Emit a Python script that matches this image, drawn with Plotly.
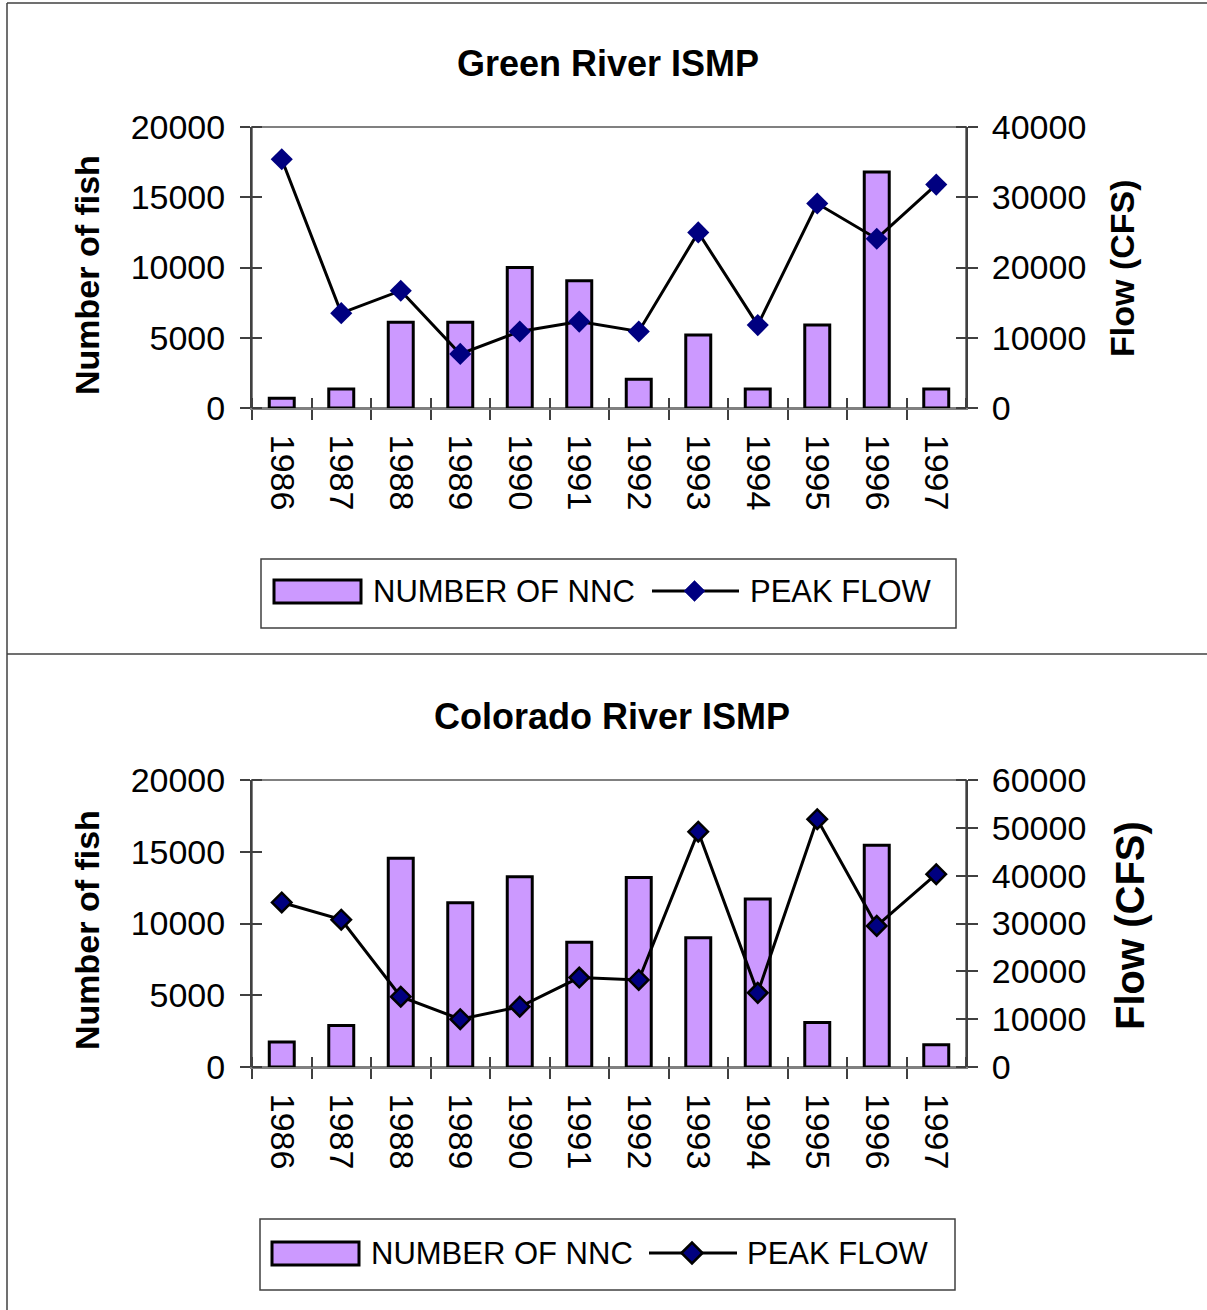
import plotly.graph_objects as go

# ---------------------------------------------------------------- data
years = [1986, 1987, 1988, 1989, 1990, 1991, 1992, 1993, 1994, 1995, 1996, 1997]
year_labels = [str(y) for y in years]

green_nnc = [700, 1350, 6100, 6100, 10000, 9050, 2050, 5200, 1350, 5900, 16800, 1350]
green_flow = [35400, 13500, 16700, 7700, 10900, 12300, 10900, 25000, 11800, 29100, 24100, 31800]

colorado_nnc = [1750, 2900, 14550, 11450, 13250, 8700, 13200, 9000, 11700, 3100, 15450, 1550]
colorado_flow = [34400, 30800, 14700, 10000, 12600, 18700, 18200, 49200, 15500, 51800, 29500, 40300]

fish_ticks = [0, 5000, 10000, 15000, 20000]
green_flow_ticks = [0, 10000, 20000, 30000, 40000]
colorado_flow_ticks = [0, 10000, 20000, 30000, 40000, 50000, 60000]

titles = ["Green River ISMP", "Colorado River ISMP"]
bar_name = "NUMBER OF NNC"
line_name = "PEAK FLOW"
left_title = "Number of fish"
right_title = "Flow (CFS)"

# ---------------------------------------------------------------- styling
W, H = 1207, 1310
FONT = "Liberation Sans, Arial, sans-serif"
TICK_SIZE = 34
BAR_FILL = "#CC99FF"
NAVY = "#000080"
AXIS_DARK = "#404040"
FRAME_GRAY = "#808080"


def px(x):
    return x / W


def py(y):
    return 1 - y / H


# plot-area geometry of each panel, in page pixels
panels = [
    dict(left=252, right=966, top=127, bottom=408,
         nnc=green_nnc, flow=green_flow, flow_ticks=green_flow_ticks,
         title_y=64, title_x=608, ltitle=(87, 275, 34), rtitle=(1122, 268, 34),
         legend=dict(box=(261, 559, 956, 628), rect=(274, 580, 361, 603),
                     line=(652, 739, 591), diamond=694.5, t1=371, t2=748),
         marker_line=0, marker_size=17),
    dict(left=252, right=966, top=780, bottom=1067,
         nnc=colorado_nnc, flow=colorado_flow, flow_ticks=colorado_flow_ticks,
         title_y=716, title_x=612, ltitle=(87, 930, 34), rtitle=(1130, 926, 40),
         legend=dict(box=(260, 1219, 955, 1290), rect=(272, 1242, 359, 1265),
                     line=(649, 737, 1253), diamond=692, t1=369, t2=745),
         marker_line=2.5, marker_size=15),
]

fig = go.Figure()
layout = dict(
    width=W, height=H,
    margin=dict(l=0, r=0, t=0, b=0, autoexpand=False),
    paper_bgcolor="white", plot_bgcolor="white",
    showlegend=False, bargap=0.58,
    font=dict(family=FONT, size=TICK_SIZE, color="black"),
)
shapes = []
annotations = []

xrange_ = [years[0] - 0.5, years[-1] + 0.5]
boundaries = [y - 0.5 for y in years] + [years[-1] + 0.5]
boundary_labels = year_labels + [""]

ids = [
    dict(x="x", yl="y", yr="y2"),
    dict(x="x2", yl="y3", yr="y4"),
]


def key(axid):
    return ("xaxis" if axid[0] == "x" else "yaxis") + axid[1:]


def cross_ticks(vals):
    # outside major ticks plus matching inside minor ticks -> crossing marks
    return dict(tickmode="array", tickvals=vals, ticks="outside", ticklen=10,
                tickcolor=AXIS_DARK, tickwidth=1.5,
                tickfont=dict(family=FONT, size=TICK_SIZE, color="black"),
                minor=dict(tickmode="array", tickvals=vals, ticks="inside",
                           ticklen=10, tickcolor=AXIS_DARK, tickwidth=1.5))


for i, (p, a) in enumerate(zip(panels, ids)):
    xdom = [px(p["left"]), px(p["right"])]
    ydom = [py(p["bottom"]), py(p["top"])]
    fmax = p["flow_ticks"][-1]
    cat_px = (p["right"] - p["left"]) / len(years)

    fig.add_trace(go.Bar(
        x=years, y=p["nnc"], name=bar_name, xaxis=a["x"], yaxis=a["yl"],
        marker=dict(color=BAR_FILL, line=dict(color="black", width=3)),
    ))
    fig.add_trace(go.Scatter(
        x=years, y=p["flow"], name=line_name, xaxis=a["x"], yaxis=a["yr"],
        mode="lines+markers", line=dict(color="black", width=3),
        marker=dict(symbol="diamond", size=p["marker_size"], color=NAVY,
                    line=dict(color="black", width=p["marker_line"])),
    ))

    # year axis: crossing ticks on the category boundaries, labels shifted
    # half a category so they sit under the bars
    xa = dict(
        domain=xdom, anchor=a["yl"], range=xrange_,
        ticktext=boundary_labels, tickangle=90,
        ticklabelstandoff=8, ticklabelshift=int(round(cat_px / 2)),
        showline=True, linecolor=FRAME_GRAY, linewidth=2,
        showgrid=False, zeroline=False, automargin=False,
    )
    xa.update(cross_ticks(boundaries))
    layout[key(a["x"])] = xa

    ya = dict(
        domain=ydom, anchor=a["x"], range=[0, fish_ticks[-1]],
        ticktext=[str(v) for v in fish_ticks], ticklabelstandoff=8,
        showline=True, linecolor=AXIS_DARK, linewidth=2,
        showgrid=False, zeroline=False, automargin=False,
    )
    ya.update(cross_ticks(fish_ticks))
    layout[key(a["yl"])] = ya

    yb = dict(
        overlaying=a["yl"], anchor=a["x"], side="right", range=[0, fmax],
        ticktext=[str(v) for v in p["flow_ticks"]], ticklabelstandoff=7,
        showline=True, linecolor=AXIS_DARK, linewidth=2,
        showgrid=False, zeroline=False, automargin=False,
    )
    yb.update(cross_ticks(p["flow_ticks"]))
    layout[key(a["yr"])] = yb

    # plot-area frame
    shapes.append(dict(type="rect", xref="paper", yref="paper", layer="below",
                       x0=xdom[0], x1=xdom[1], y0=ydom[0], y1=ydom[1],
                       line=dict(color=FRAME_GRAY, width=2)))

    # chart title and axis titles
    annotations.append(dict(text=f"<b>{titles[i]}</b>",
                            xref="paper", yref="paper",
                            x=px(p["title_x"]), y=py(p["title_y"]),
                            xanchor="center", yanchor="middle", showarrow=False,
                            font=dict(family=FONT, size=36, color="black")))
    lx, ly, ls = p["ltitle"]
    annotations.append(dict(text=f"<b>{left_title}</b>", textangle=-90,
                            xref="paper", yref="paper", x=px(lx), y=py(ly),
                            xanchor="center", yanchor="middle", showarrow=False,
                            font=dict(family=FONT, size=ls, color="black")))
    rx, ry, rs = p["rtitle"]
    annotations.append(dict(text=f"<b>{right_title}</b>", textangle=-90,
                            xref="paper", yref="paper", x=px(rx), y=py(ry),
                            xanchor="center", yanchor="middle", showarrow=False,
                            font=dict(family=FONT, size=rs, color="black")))

    # legend box
    lg = p["legend"]
    bx0, by0, bx1, by1 = lg["box"]
    shapes.append(dict(type="rect", xref="paper", yref="paper",
                       x0=px(bx0), x1=px(bx1), y0=py(by1), y1=py(by0),
                       line=dict(color=AXIS_DARK, width=1.5), fillcolor="white"))
    rx0, ry0, rx1, ry1 = lg["rect"]
    shapes.append(dict(type="rect", xref="paper", yref="paper",
                       x0=px(rx0), x1=px(rx1), y0=py(ry1), y1=py(ry0),
                       line=dict(color="black", width=3), fillcolor=BAR_FILL))
    lx0, lx1, lyc = lg["line"]
    shapes.append(dict(type="line", xref="paper", yref="paper",
                       x0=px(lx0), x1=px(lx1), y0=py(lyc), y1=py(lyc),
                       line=dict(color="black", width=3)))
    dc = lg["diamond"]
    d = 10.5
    path = (f"M {px(dc - d)} {py(lyc)} L {px(dc)} {py(lyc - d)} "
            f"L {px(dc + d)} {py(lyc)} L {px(dc)} {py(lyc + d)} Z")
    shapes.append(dict(type="path", xref="paper", yref="paper", path=path,
                       fillcolor=NAVY,
                       line=dict(color="black" if p["marker_line"] else NAVY,
                                 width=max(p["marker_line"], 0.5))))
    annotations.append(dict(text=bar_name, xref="paper", yref="paper",
                            x=px(lg["t1"]), y=py(lyc), xanchor="left",
                            yanchor="middle", showarrow=False,
                            font=dict(family=FONT, size=31, color="black")))
    annotations.append(dict(text=line_name, xref="paper", yref="paper",
                            x=px(lg["t2"]), y=py(lyc), xanchor="left",
                            yanchor="middle", showarrow=False,
                            font=dict(family=FONT, size=31, color="black")))

# page frame: left and top edges plus the divider between the two panels
shapes.append(dict(type="line", xref="paper", yref="paper",
                   x0=px(7), x1=px(7), y0=0, y1=py(3),
                   line=dict(color=AXIS_DARK, width=1.5)))
shapes.append(dict(type="line", xref="paper", yref="paper",
                   x0=px(7), x1=1, y0=py(3), y1=py(3),
                   line=dict(color=AXIS_DARK, width=1.5)))
shapes.append(dict(type="line", xref="paper", yref="paper",
                   x0=px(7), x1=1, y0=py(654), y1=py(654),
                   line=dict(color=AXIS_DARK, width=1.5)))

layout["shapes"] = shapes
layout["annotations"] = annotations
fig.update_layout(**layout)

fig.write_html("out.html")
